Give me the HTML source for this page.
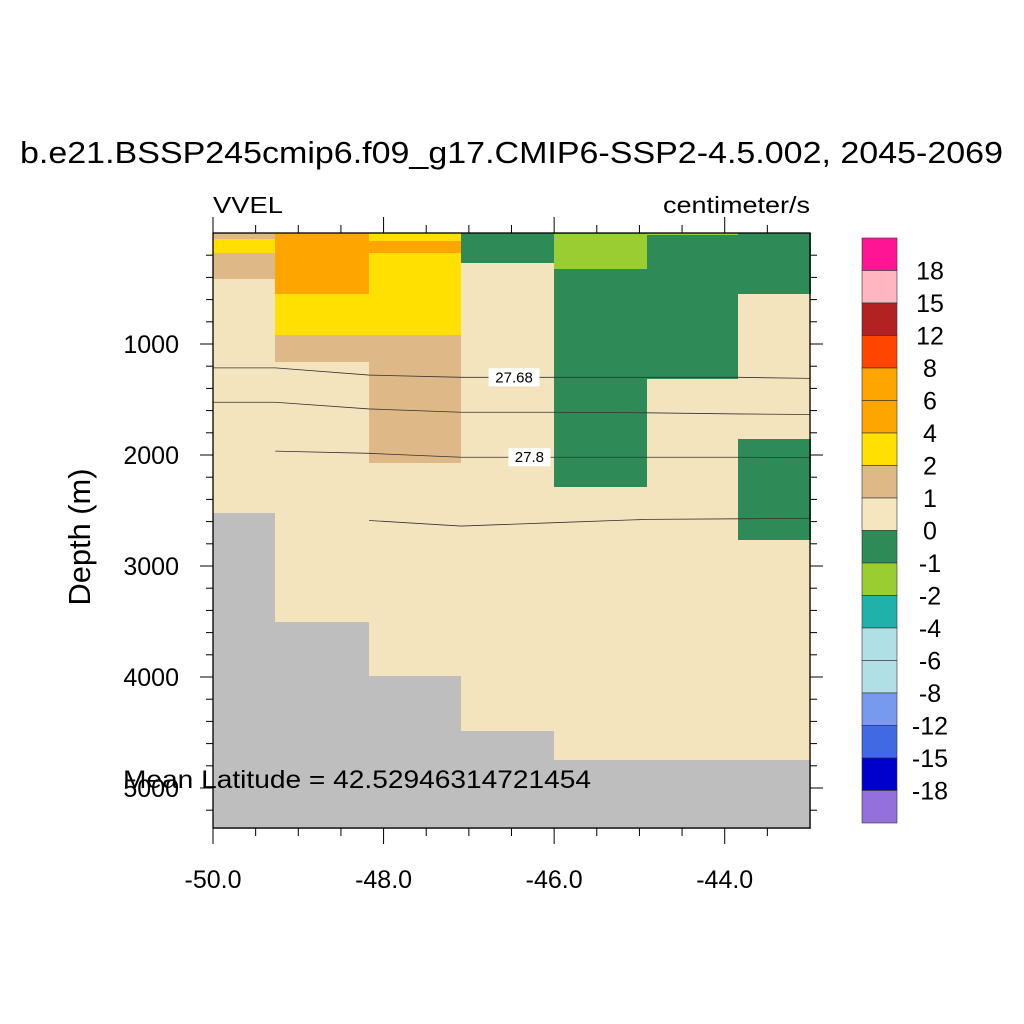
<!DOCTYPE html>
<html><head><meta charset="utf-8"><style>
html,body{margin:0;padding:0;background:#fff;}
svg{display:block;font-family:"Liberation Sans",sans-serif;}
</style></head><body>
<svg id="chart" width="1024" height="1024" viewBox="0 0 1024 1024">
<text x="20" y="163" font-size="31" textLength="983" lengthAdjust="spacingAndGlyphs">b.e21.BSSP245cmip6.f09_g17.CMIP6-SSP2-4.5.002, 2045-2069</text>
<text x="213" y="213" font-size="23" textLength="70" lengthAdjust="spacingAndGlyphs">VVEL</text>
<text x="663" y="213" font-size="23" textLength="147" lengthAdjust="spacingAndGlyphs">centimeter/s</text>
<text transform="translate(90,537) rotate(-90)" text-anchor="middle" font-size="31" textLength="137" lengthAdjust="spacingAndGlyphs">Depth (m)</text>
<g id="cells" shape-rendering="crispEdges"></g>
<g id="contours"></g>
<g id="axes"></g>
<g id="cbar"></g>
<text x="123" y="788" font-size="25" textLength="468" lengthAdjust="spacingAndGlyphs">Mean Latitude = 42.52946314721454</text>
</svg>
<script>
// ---- data ----
const lonEdges = [-50, -49.27, -48.17, -47.09, -46.0, -44.91, -43.84, -43.0];
// each column: list of [topDepth, bottomDepth, colorKey]
const col0 = [[0,55,'tan'],[55,180,'yellow'],[180,415,'tan'],[415,2520,'cream'],[2520,5370,'gray']];
const col1 = [[0,550,'orange'],[550,920,'yellow'],[920,1160,'tan'],[1160,3500,'cream'],[3500,5370,'gray']];
const col2 = [[0,70,'yellow'],[70,180,'orange'],[180,920,'yellow'],[920,2070,'tan'],[2070,3990,'cream'],[3990,5370,'gray']];
const col3 = [[0,270,'green'],[270,4490,'cream'],[4490,5370,'gray']];
const col4 = [[0,10,'teal'],[10,325,'ygreen'],[325,2290,'green'],[2290,4750,'cream'],[4750,5370,'gray']];
const col5 = [[0,15,'ygreen'],[15,1315,'green'],[1315,4750,'cream'],[4750,5370,'gray']];
const col6 = [[0,550,'green'],[550,1860,'cream'],[1860,2765,'green'],[2765,4750,'cream'],[4750,5370,'gray']];
const columns = [col0,col1,col2,col3,col4,col5,col6];
// contour lines: [lon, depth] points
const contourLons = [-50, -49.27, -48.17, -47.09, -46.0, -44.91, -43.84, -43.0];
const c1Depths = [1215, 1215, 1280, 1300, 1300, 1300, 1300, 1310];
const c2Depths = [1525, 1525, 1585, 1615, 1615, 1620, 1630, 1635];
const c3Depths = [null, 1965, 1985, 2020, 2020, 2020, 2020, 2025];
const c4Depths = [null, null, 2590, 2640, 2610, 2580, 2575, 2570];
const contourLabels = [['27.68', -46.47, 1300], ['27.8', -46.29, 2020]];
const cbarLabels = ['18','15','12','8','6','4','2','1','0','-1','-2','-4','-6','-8','-12','-15','-18'];
const cbarColors = ['#ff1493','#ffb6c1','#b22222','#ff4500','#ffa500','#ffa500','#ffe000','#deb887','#f5e6c0','#2e8b57','#9acd32','#20b2aa','#b0dfe5','#b0dfe5','#7799ee','#4169e1','#0000cd','#9370db'];
const xTicks = [-50, -48, -46, -44];
const yTicks = [1000, 2000, 3000, 4000, 5000];
const palette = {tan:'#deb887',yellow:'#ffe000',orange:'#ffa500',cream:'#f3e4bd',gray:'#bebebe',green:'#2e8b57',ygreen:'#9acd32',teal:'#20b2aa'};
// ---- scales ----
const X0=213,X1=810,Y0=233,Y1=828;
const xs = lon => X0 + (lon+50)*(X1-X0)/7;
const ys = d => Y0 + d*0.111;
const NS='http://www.w3.org/2000/svg';
function mk(tag, attrs, parent){const e=document.createElementNS(NS,tag);for(const k in attrs)e.setAttribute(k,attrs[k]);parent.appendChild(e);return e;}
const cells=document.getElementById('cells');
columns.forEach((col,i)=>{
  col.forEach(c=>{
    const x0=Math.round(xs(lonEdges[i])),x1=Math.round(xs(lonEdges[i+1]));
    const y0=Math.round(ys(c[0])),y1=Math.round(Math.min(ys(c[1]),Y1));
    const r=mk('rect',{x:x0,y:y0,width:x1-x0+1,height:y1-y0+1,fill:palette[c[2]]},cells);
    
    
  });
});
const cont=document.getElementById('contours');
[c1Depths,c2Depths,c3Depths,c4Depths].forEach((arr,j)=>{
  const pts=[];arr.forEach((d,i)=>{if(d!==null)pts.push(xs(contourLons[i])+','+ys(d));});
  const p=mk('polyline',{points:pts.join(' '),fill:'none',stroke:'#333',"stroke-width":0.8},cont);
  
  
});
contourLabels.forEach(l=>{
  const cx=xs(l[1]),cy=ys(l[2]);const w=l[0].length*9+6;
  const r=mk('rect',{x:cx-w/2,y:cy-9,width:w,height:18,fill:'#fff'},cont);
  
  
  const t=mk('text',{x:cx,y:cy+5,"text-anchor":"middle","font-size":15},cont);t.textContent=l[0];
  
  
});
const ax=document.getElementById('axes');
mk('rect',{x:X0,y:Y0,width:X1-X0,height:Y1-Y0,fill:'none',stroke:'#000',"stroke-width":1.3},ax);
for(let lon=-50;lon<=-43.001;lon+=0.5){
  const major=Math.abs(lon-Math.round(lon/2)*2)<1e-6;const L=major?16:8;const x=xs(lon);
  mk('line',{x1:x,y1:Y1,x2:x,y2:Y1+L,stroke:'#000'},ax);
  mk('line',{x1:x,y1:Y0,x2:x,y2:Y0-L,stroke:'#000'},ax);
}
for(let d=200;d<=5300;d+=200){
  const major=d%1000===0;const L=major?13:7;const y=ys(d);
  mk('line',{x1:X0,y1:y,x2:X0-L,y2:y,stroke:'#000'},ax);
  mk('line',{x1:X1,y1:y,x2:X1+L,y2:y,stroke:'#000'},ax);
}
xTicks.forEach(v=>{const t=mk('text',{x:xs(v),y:888,"text-anchor":"middle","font-size":25},ax);t.textContent=v.toFixed(1);
  
  });
yTicks.forEach(v=>{const t=mk('text',{x:179,y:ys(v)+9,"text-anchor":"end","font-size":25},ax);t.textContent=v;
  
  });
const cb=document.getElementById('cbar');
const bh=(823-238)/cbarColors.length;
cbarColors.forEach((c,i)=>{const r=mk('rect',{x:862,y:238+i*bh,width:35,height:bh,fill:c,stroke:'#333',"stroke-width":0.6},cb);
  
  });
cbarLabels.forEach((l,i)=>{const t=mk('text',{x:930,y:238+(i+1)*bh+9,"text-anchor":"middle","font-size":25},cb);t.textContent=l;
  
  });
</script>
</body></html>
